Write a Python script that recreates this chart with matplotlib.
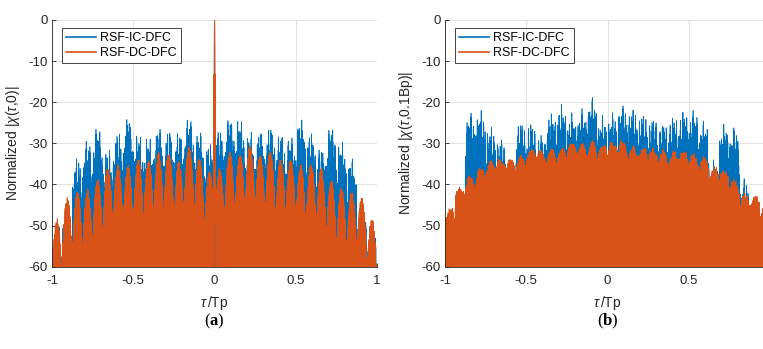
import matplotlib.pyplot as plt
import numpy as np

plt.rcParams['font.family'] = ['Liberation Sans', 'DejaVu Sans']
plt.rcParams['mathtext.fontset'] = 'custom'
plt.rcParams['mathtext.rm'] = 'Liberation Sans'
plt.rcParams['mathtext.it'] = 'Liberation Sans:italic'
plt.rcParams['mathtext.bf'] = 'Liberation Serif:bold'

BLUE = '#0072BD'
ORANGE = '#D95319'

# peak level (dB) of each of the 32 sub-pulse lobes, left to right
ic_peaks_a = [-50.0, -45.0, -33.7, -29.4, -26.4, -31.6, -27.8, -24.1,
              -27.8, -28.5, -26.4, -27.3, -27.2, -24.3, -27.3, -30.0,
              -27.3, -24.2, -24.3, -27.3, -27.3, -26.4, -28.0, -28.5,
              -24.2, -27.6, -31.6, -26.4, -29.4, -33.7, -45.0, -50.0]
dc_peaks_a = [-48.3, -43.1, -41.6, -40.8, -38.8, -35.7, -35.1, -35.3,
              -33.9, -33.9, -32.0, -32.4, -34.1, -30.7, -33.7, -36.5,
              -36.0, -32.0, -32.8, -30.4, -32.4, -32.0, -33.9, -33.7,
              -35.1, -35.1, -35.7, -38.8, -40.8, -41.6, -43.1, -48.3]
ic_peaks_b = [-47.0, -44.0, -22.5, -21.9, -26.0, -29.0, -34.5, -25.5,
              -25.5, -28.0, -22.5, -20.5, -22.5, -21.5, -18.7, -23.0,
              -22.5, -20.7, -21.5, -23.0, -24.5, -25.5, -23.5, -22.0,
              -22.0, -24.5, -34.0, -25.0, -26.0, -38.5, -44.0, -47.0]
dc_peaks_b = [-45.5, -40.6, -37.5, -35.5, -34.0, -33.5, -33.0, -32.3,
              -31.5, -31.0, -30.5, -30.2, -30.0, -29.6, -29.3, -30.0,
              -29.5, -29.0, -30.5, -30.8, -31.0, -31.3, -31.6, -31.8,
              -32.3, -33.0, -35.5, -36.5, -38.5, -42.0, -42.6, -45.5]

series_names = ['RSF-IC-DFC', 'RSF-DC-DFC']
xtick_vals_a = [-1, -0.5, 0, 0.5, 1]
xtick_text_a = ['-1', '-0.5', '0', '0.5', '1']
xtick_vals_b = [-1, -0.5, 0, 0.5]
xtick_text_b = ['-1', '-0.5', '0', '0.5']
ytick_vals = [-60, -50, -40, -30, -20, -10, 0]
ytick_text = ['-60', '-50', '-40', '-30', '-20', '-10', '0']

tau = np.linspace(-1, 1, 16001)
n_lobes = 32


def lobe_trace(peaks, spread, sharp, dome, power, f1, f2, f3, ph):
    pos = (tau + 1) * n_lobes / 2
    idx = np.clip(pos.astype(int), 0, n_lobes - 1)
    u = pos - idx - 0.5
    # slow beat pattern gives the ragged top of each lobe
    m = ((1 + np.cos(2 * np.pi * f1 * tau + ph)) *
         (1 + np.cos(2 * np.pi * f2 * tau + 2.3 * ph)) / 4) ** sharp
    m = m - dome / max(spread, 1e-9) * np.abs(2 * u) ** power
    mmax = np.array([m[idx == k].max() for k in range(n_lobes)])
    m = m - mmax[idx]
    env = np.asarray(peaks)[idx] + spread * m
    # fast ripple sweeps down to the noise floor
    phase = 2 * np.pi * (f3 * tau + 37.0 * tau ** 2) + 1.7 * np.sin(9.1 * tau) + ph
    w = ((1 - np.cos(phase)) / 2) ** 1.5
    return env - (env + 75) * w


ic_a = lobe_trace(ic_peaks_a, 9, 0.6, 9, 3, 83.7, 131.9, 803.0, 0.4)
dc_a = lobe_trace(dc_peaks_a, 2.0, 1.0, 15, 2.2, 151.3, 311.7, 781.0, 1.9)
ic_b = lobe_trace(ic_peaks_b, 9, 0.6, 5, 2, 79.1, 127.3, 797.0, 2.6)
dc_b = lobe_trace(dc_peaks_b, 3.0, 1.0, 3, 2, 147.7, 307.1, 789.0, 0.9)

# narrow mainlobe at zero delay
mainlobe = np.where(np.abs(tau) < 0.006,
                    20 * np.log10(np.abs(np.sinc(tau / 0.003)) + 1e-6), -100)
ic_a = np.maximum(ic_a, mainlobe)
dc_a = np.maximum(dc_a, mainlobe)

fig = plt.figure(figsize=(7.63, 3.49), dpi=100)
ax_a = fig.add_axes([52 / 763, 82.3 / 349, 325 / 763, 246.7 / 349])
ax_b = fig.add_axes([445 / 763, 82.3 / 349, 325 / 763, 246.7 / 349])

panels = [(ax_a, ic_a, dc_a, r'Normalized $|\chi(\tau{,}0)|$', '(' + r'$\mathbf{a}$' + ')',
           xtick_vals_a, xtick_text_a),
          (ax_b, ic_b, dc_b, r'Normalized $|\chi(\tau{,}0.1\mathrm{Bp})|$', '(' + r'$\mathbf{b}$' + ')',
           xtick_vals_b, xtick_text_b)]

for ax, ic, dc, ylab, cap, xv, xt in panels:
    ax.plot(tau, ic, color=BLUE, lw=0.5, label=series_names[0])
    ax.plot(tau, dc, color=ORANGE, lw=0.5, label=series_names[1])
    ax.set_xlim(-1, 1)
    ax.set_ylim(-60, 0)
    ax.set_xticks(xv)
    ax.set_xticklabels(xt)
    ax.set_yticks(ytick_vals)
    ax.set_yticklabels(ytick_text)
    ax.grid(True, color='#dedede', lw=0.6)
    ax.set_axisbelow(True)
    for s in ['top', 'right']:
        ax.spines[s].set_visible(False)
    for s in ['left', 'bottom']:
        ax.spines[s].set_color('#262626')
        ax.spines[s].set_linewidth(0.6)
    ax.tick_params(direction='in', length=3, width=0.6, colors='#262626', labelsize=9.5)
    ax.tick_params(axis='x', pad=6)
    ax.tick_params(axis='y', pad=3)
    ax.set_xlabel(r'$\tau\,$/Tp', fontsize=10, color='#262626', labelpad=5)
    ax.set_ylabel(ylab, fontsize=10, color='#262626', labelpad=5)
    leg = ax.legend(loc='upper left', bbox_to_anchor=(10 / 325, 1 - 8 / 246.7),
                    borderaxespad=0, fontsize=9, fancybox=False, framealpha=1,
                    edgecolor='#262626', borderpad=0.35, handlelength=2.4,
                    handletextpad=0.3, labelspacing=0.2)
    leg.get_frame().set_linewidth(0.6)
    for ln in leg.get_lines():
        ln.set_linewidth(1.2)
    # subfigure caption under each panel
    x0 = ax.get_position().x0 + ax.get_position().width / 2
    fig.text(x0, 1 - 321 / 349, cap, ha='center', va='center', fontsize=12,
             family='Liberation Serif')

fig.savefig('out.png', dpi=100)
